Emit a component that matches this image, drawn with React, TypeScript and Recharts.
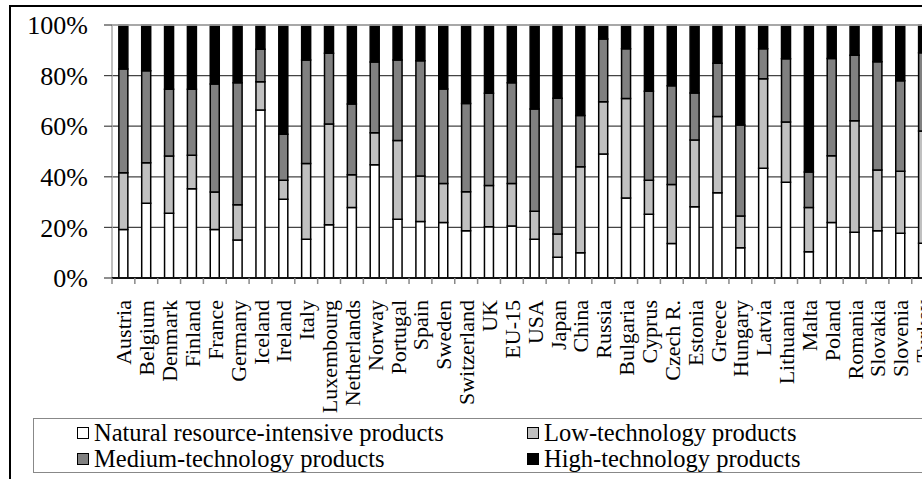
import { BarChart, Bar, XAxis, YAxis, CartesianGrid, ReferenceLine } from "recharts"

const countries = [
  "Austria", "Belgium", "Denmark", "Finland", "France", "Germany", "Iceland", "Ireland", "Italy",
  "Luxembourg", "Netherlands", "Norway", "Portugal", "Spain", "Sweden", "Switzerland", "UK", "EU-15",
  "USA", "Japan", "China", "Russia", "Bulgaria", "Cyprus", "Czech R.", "Estonia", "Greece", "Hungary",
  "Latvia", "Lithuania", "Malta", "Poland", "Romania", "Slovakia", "Slovenia", "Turkey",
]

// shares in % of exports
const natural = [19.2, 29.5, 25.6, 35.3, 19.2, 15.0, 66.4, 31.1, 15.3, 21.0, 27.9, 44.8, 23.2, 22.3, 21.9, 18.7, 20.3, 20.6, 15.3, 8.2, 10.0, 49.0, 31.6, 25.2, 13.6, 28.2, 33.7, 12.0, 43.4, 37.8, 10.4, 21.9, 18.1, 18.7, 17.7, 13.7]
const lowTech = [22.4, 16.1, 22.6, 13.2, 14.8, 14.0, 11.2, 7.5, 30.0, 39.9, 12.9, 12.6, 31.1, 18.0, 15.5, 15.4, 16.3, 16.8, 11.1, 9.2, 34.0, 20.7, 39.3, 13.4, 23.4, 26.3, 30.1, 12.5, 35.4, 23.9, 17.5, 26.4, 44.1, 24.0, 24.5, 44.4]
const mediumTech = [41.0, 36.3, 26.4, 26.1, 42.7, 48.2, 12.8, 18.2, 40.9, 27.9, 28.0, 28.0, 31.9, 45.6, 37.3, 34.9, 36.4, 39.8, 40.4, 53.6, 20.2, 24.8, 19.7, 35.2, 39.0, 18.6, 21.1, 36.0, 11.8, 25.0, 14.0, 38.5, 25.8, 42.8, 35.8, 30.9]
const highTech = [17.4, 18.1, 25.4, 25.4, 23.3, 22.8, 9.6, 43.2, 13.8, 11.2, 31.2, 14.6, 13.8, 14.1, 25.3, 31.0, 27.0, 22.8, 33.2, 29.0, 35.8, 5.5, 9.4, 26.2, 24.0, 26.9, 15.1, 39.5, 9.4, 13.3, 58.1, 13.2, 12.0, 14.5, 22.0, 11.0]

const yTicks = [0, 20, 40, 60, 80, 100]

const series = [
  { key: "natural", name: "Natural resource-intensive products", color: "#ffffff" },
  { key: "low", name: "Low-technology products", color: "#c0c0c0" },
  { key: "medium", name: "Medium-technology products", color: "#808080" },
  { key: "high", name: "High-technology products", color: "#000000" },
]

const data = countries.map((c, i) => ({
  country: c,
  natural: natural[i],
  low: lowTech[i],
  medium: mediumTech[i],
  high: highTech[i],
}))

const FONT = "Liberation Serif, DejaVu Serif, Times New Roman, serif"
const BAND = 822.6 / countries.length

function CountryTick(props: any) {
  const { x, y, payload } = props
  // boundary tick to the left of each category, like the original
  const left = x - BAND / 2
  return (
    <g>
      <line x1={left} x2={left} y1={y - 22} y2={y - 16} stroke="#888" strokeWidth={1.5} />
      <text
        x={x}
        y={y}
        dy={8}
        transform={`rotate(-90, ${x}, ${y})`}
        textAnchor="end"
        style={{ fontFamily: FONT }}
        fontSize={22}
        fill="#000"
      >
        {payload.value}
      </text>
    </g>
  )
}

function LegendItem({ color, label, left, top }: { color: string; label: string; left: number; top: number }) {
  return (
    <div style={{ position: "absolute", left, top, display: "flex", alignItems: "center", whiteSpace: "nowrap" }}>
      <span
        style={{
          display: "inline-block",
          width: 10,
          height: 10,
          background: color,
          border: "1.5px solid #000",
          marginRight: 5,
        }}
      />
      <span style={{ fontFamily: FONT, fontSize: 24.5, lineHeight: "26px", color: "#000" }}>{label}</span>
    </div>
  )
}

export default function App() {
  return (
    <div style={{ position: "fixed", left: 0, top: 0, width: 922, height: 479, overflow: "hidden", background: "#fff", fontFamily: FONT }}>
      <div
        style={{
          position: "absolute",
          left: 9,
          top: 5,
          width: 1000,
          height: 500,
          border: "2px solid #000",
          boxSizing: "border-box",
        }}
      />
      <div style={{ position: "absolute", left: 0, top: 0 }}>
        <BarChart
          width={950}
          height={418}
          data={data}
          margin={{ top: 25, right: 15.4, bottom: 0, left: 0 }}
          barCategoryGap="30%"
          style={{ fontFamily: FONT }}
        >
          <CartesianGrid vertical={false} stroke="#444" strokeWidth={1.2} />
          <YAxis
            type="number"
            domain={[0, 100]}
            ticks={yTicks}
            width={112}
            tickFormatter={(v: number) => `${v}%`}
            axisLine={{ stroke: "#aaa", strokeWidth: 1.5 }}
            tickLine={{ stroke: "#444", strokeWidth: 1.2 }}
            tickSize={8}
            tickMargin={16}
            tick={{ fontFamily: FONT, fontSize: 26, fill: "#000" }}
          />
          <XAxis
            dataKey="country"
            interval={0}
            height={140}
            axisLine={{ stroke: "#111", strokeWidth: 2 }}
            tickLine={false}
            tickSize={6}
            tickMargin={16}
            tick={<CountryTick />}
          />
          <ReferenceLine y={100} stroke="#bbb" strokeWidth={1.5} ifOverflow="extendDomain" />
          {series.map((s) => (
            <Bar
              key={s.key}
              dataKey={s.key}
              name={s.name}
              stackId="a"
              fill={s.color}
              stroke="#000"
              strokeWidth={1.5}
              isAnimationActive={false}
            />
          ))}
        </BarChart>
      </div>
      <div
        style={{
          position: "absolute",
          left: 33,
          top: 418,
          width: 1000,
          height: 55,
          border: "1px solid #888",
          boxSizing: "border-box",
        }}
      />
      <LegendItem color={series[0].color} label={series[0].name} left={77} top={420} />
      <LegendItem color={series[1].color} label={series[1].name} left={527} top={420} />
      <LegendItem color={series[2].color} label={series[2].name} left={77} top={446} />
      <LegendItem color={series[3].color} label={series[3].name} left={527} top={446} />
    </div>
  )
}
